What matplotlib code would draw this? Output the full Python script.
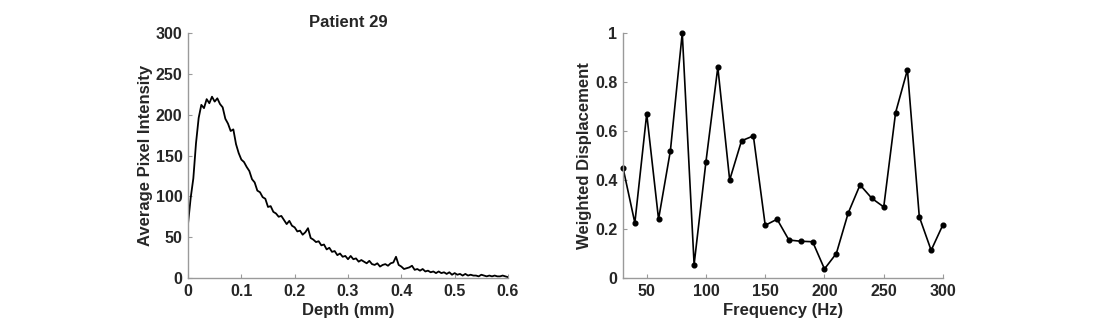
import numpy as np
import matplotlib
matplotlib.use("Agg")
import matplotlib.pyplot as plt
from matplotlib.ticker import FuncFormatter

# left panel: average pixel intensity vs depth
intensity = [66, 98, 122, 165, 196, 212, 208, 219, 214, 222, 216, 220, 213, 209, 195,
             189, 180, 182, 164, 153, 145, 142, 136, 131, 121, 117, 107, 105, 99, 97,
             87, 88, 81, 79, 75, 76, 71, 66, 70, 64, 62, 57, 58, 53, 56,
             61, 49, 47, 44, 45, 40, 41, 35, 37, 32, 33, 28, 30, 26, 27,
             23, 27, 23, 24, 20, 22, 20, 18, 21, 17, 16, 18, 14, 16, 17,
             15, 18, 19, 26, 16, 14, 11, 12, 13, 15, 10, 11, 9, 11, 8,
             9, 7, 8, 6, 8, 6, 7, 5, 7, 4, 6, 4, 5, 3, 5,
             3, 4, 3, 3, 2, 4, 3, 2, 3, 2, 3, 2, 2, 3, 2, 1]
depth = np.linspace(0, 0.6, len(intensity))

# right panel: weighted displacement vs frequency
freq = [30, 40, 50, 60, 70, 80, 90, 100, 110, 120, 130, 140, 150, 160,
        170, 180, 190, 200, 210, 220, 230, 240, 250, 260, 270, 280, 290, 300]
displacement = [0.45, 0.225, 0.67, 0.24, 0.52, 1.0, 0.055, 0.475, 0.86, 0.40,
                0.56, 0.58, 0.215, 0.24, 0.155, 0.15, 0.148, 0.037, 0.10, 0.265,
                0.38, 0.325, 0.29, 0.675, 0.85, 0.25, 0.113, 0.218]

plt.rcParams['font.family'] = ['Liberation Sans', 'DejaVu Sans']
plt.rcParams['font.weight'] = 'bold'

fmt = FuncFormatter(lambda v, p: '%g' % v)
txt = '#262626'


def style_axes(ax):
    for side in ['top', 'right']:
        ax.spines[side].set_visible(False)
    for side in ['left', 'bottom']:
        ax.spines[side].set_color('#9a9a9a')
        ax.spines[side].set_linewidth(1.0)
    ax.tick_params(direction='in', length=3, width=0.8, color='#9a9a9a',
                   labelsize=11.5, labelcolor=txt, pad=4)
    for lab in ax.get_xticklabels() + ax.get_yticklabels():
        lab.set_fontweight('bold')


fig = plt.figure(figsize=(11.19, 3.35), dpi=100)

ax1 = fig.add_axes([188 / 1119, 57 / 335, 320 / 1119, 245 / 335])
ax1.plot(depth, intensity, color='black', linewidth=1.3)
ax1.set_xlim(0, 0.6)
ax1.set_ylim(0, 300)
ax1.set_xticks([0, 0.1, 0.2, 0.3, 0.4, 0.5, 0.6])
ax1.set_yticks([0, 50, 100, 150, 200, 250, 300])
ax1.xaxis.set_major_formatter(fmt)
ax1.set_xlabel('Depth (mm)', fontsize=12, fontweight='bold', color=txt, labelpad=3)
ax1.set_ylabel('Average Pixel Intensity', fontsize=12, fontweight='bold', color=txt, labelpad=2)
ax1.set_title('Patient 29', fontsize=12, fontweight='bold', color=txt, pad=4)
style_axes(ax1)

ax2 = fig.add_axes([623 / 1119, 57 / 335, 320 / 1119, 245 / 335])
ax2.plot(freq, displacement, color='black', linewidth=1.2, marker='o', markersize=3.4)
ax2.set_xlim(30, 300)
ax2.set_ylim(0, 1)
ax2.set_xticks([50, 100, 150, 200, 250, 300])
ax2.set_yticks([0, 0.2, 0.4, 0.6, 0.8, 1])
ax2.yaxis.set_major_formatter(fmt)
ax2.set_xlabel('Frequency (Hz)', fontsize=12, fontweight='bold', color=txt, labelpad=3)
ax2.set_ylabel('Weighted Displacement', fontsize=12, fontweight='bold', color=txt, labelpad=2)
style_axes(ax2)
for line in ax2.get_lines():
    line.set_clip_on(False)

fig.savefig('out.png', dpi=100)
